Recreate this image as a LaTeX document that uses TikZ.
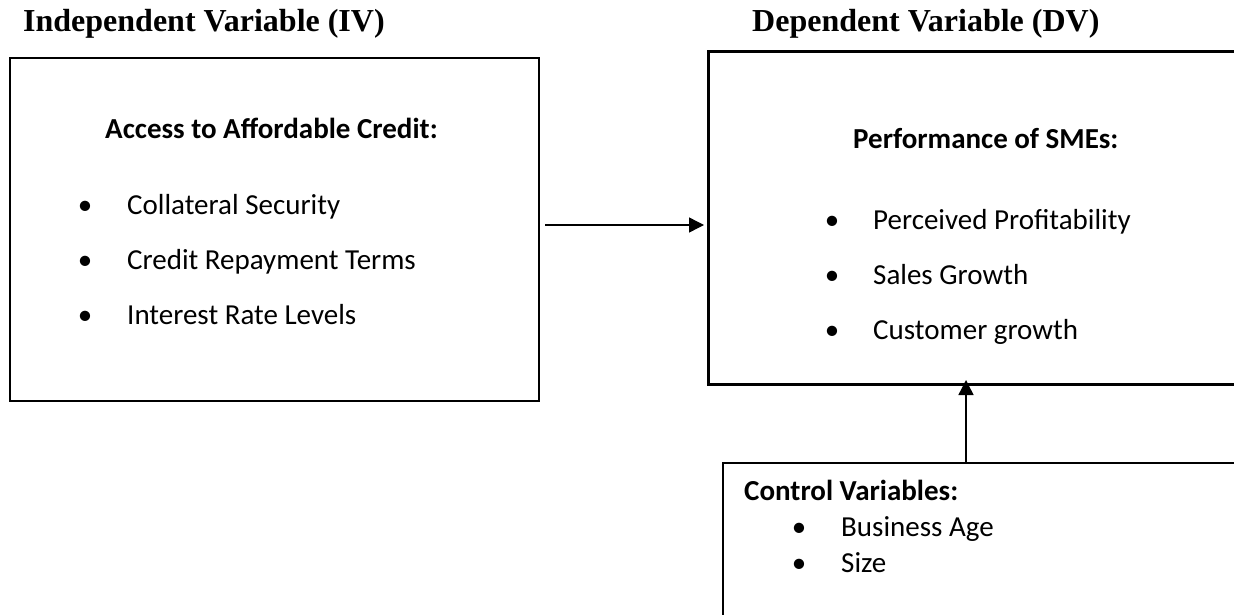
\documentclass[tikz,border=0pt]{standalone}
\usepackage{fontspec}
\setmainfont{Carlito}
\newfontfamily\titlefont{Liberation Serif}
\usetikzlibrary{arrows.meta}
\begin{document}
\begin{tikzpicture}[x=1pt,y=-1pt,
  box/.style={draw=black, inner sep=0pt, outer sep=0pt, anchor=north west},
  vtitle/.style={font=\titlefont\bfseries\fontsize{32}{38}\selectfont, anchor=base west, inner sep=0pt},
  head/.style={font=\bfseries\fontsize{29}{35}\selectfont, anchor=base west, inner sep=0pt},
  item/.style={font=\fontsize{29}{35}\selectfont, anchor=base west, inner sep=0pt},
  bul/.style={font=\fontsize{29}{35}\selectfont, anchor=base, inner sep=0pt},
  arr/.style={draw=black, line width=1.4pt, -{Triangle[length=15pt,width=15pt]}}
]
\useasboundingbox (0,0) rectangle (1234,615);
\clip (0,0) rectangle (1234,615);
\fill[white] (0,0) rectangle (1234,615);

% titles
\node[vtitle] (tiv) at (23,32) {Independent Variable (IV)};
\node[vtitle] (tdv) at (752,32) {Dependent Variable (DV)};

% boxes
\node[box, line width=2.8pt, minimum width=529pt, minimum height=343pt] (iv) at (10,58) {};
\node[box, line width=3pt, minimum width=600pt, minimum height=332pt] (dv) at (708,52) {};
\node[box, line width=1.3pt, minimum width=600pt, minimum height=300pt] (ctl) at (723,463) {};

% IV content
\node[head] (ivh) at (105,139) {Access to Affordable Credit:};
\node[bul] (ivb1) at (85,214) {•};
\node[item] (ivi1) at (127,214) {Collateral Security};
\node[bul] (ivb2) at (85,269) {•};
\node[item] (ivi2) at (127,269) {Credit Repayment Terms};
\node[bul] (ivb3) at (85,324) {•};
\node[item] (ivi3) at (127,324) {Interest Rate Levels};

% DV content
\node[head] (dvh) at (853,149) {Performance of SMEs:};
\node[bul] (dvb1) at (832,229) {•};
\node[item] (dvi1) at (873,229) {Perceived Profitability};
\node[bul] (dvb2) at (832,284) {•};
\node[item] (dvi2) at (873,284) {Sales Growth};
\node[bul] (dvb3) at (832,339) {•};
\node[item] (dvi3) at (873,339) {Customer growth};

% Control content
\node[head] (ch) at (744,500) {Control Variables:};
\node[bul] (cb1) at (799,536) {•};
\node[item] (ci1) at (841,536) {Business Age};
\node[bul] (cb2) at (799,572) {•};
\node[item] (ci2) at (841,572) {Size};

% connectors
\coordinate (ay) at (0,225);
\coordinate (ax) at (966,0);
\draw[arr] ([xshift=6pt]iv.east |- ay) -- ([xshift=-4pt]dv.west |- ay);
\draw[arr] (ctl.north -| ax) -- ([yshift=4pt]dv.south -| ax);
\end{tikzpicture}
\end{document}
